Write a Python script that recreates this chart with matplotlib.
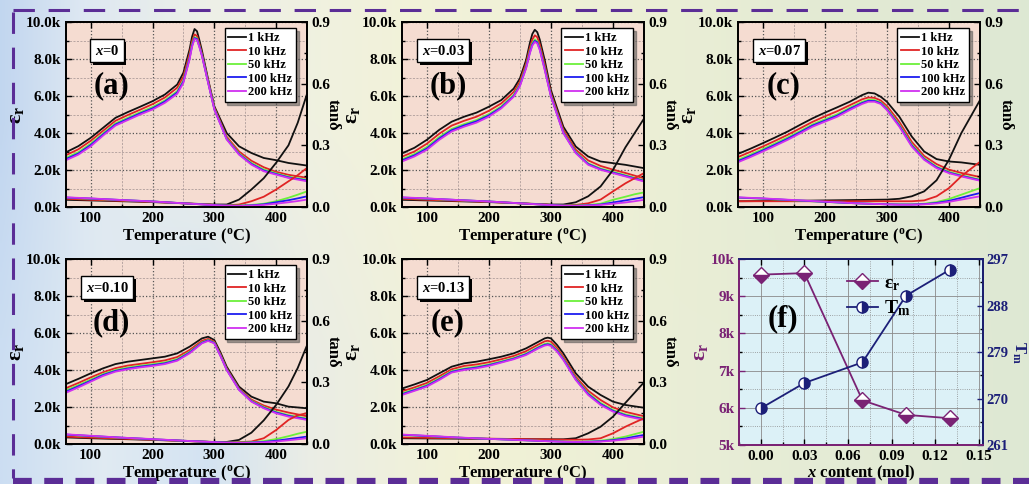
import numpy as np
import matplotlib
matplotlib.use('Agg')
import matplotlib.pyplot as plt
from matplotlib.lines import Line2D
from matplotlib.ticker import FuncFormatter, MultipleLocator, FixedLocator
import matplotlib.patheffects as pe

plt.rcParams['font.family'] = ['Liberation Serif', 'DejaVu Serif']
plt.rcParams['font.weight'] = 'bold'
plt.rcParams['axes.labelweight'] = 'bold'
plt.rcParams['mathtext.fontset'] = 'custom'
plt.rcParams['mathtext.rm'] = 'Liberation Serif:bold'
plt.rcParams['mathtext.it'] = 'Liberation Serif:italic:bold'
plt.rcParams['mathtext.bf'] = 'Liberation Serif:bold'

# ---------------- data ----------------
FREQS = ['1 kHz', '10 kHz', '50 kHz', '100 kHz', '200 kHz']
TAN_T = [60, 100, 150, 200, 250, 300, 320, 340, 360, 380, 400, 420, 435, 450]

# (a) x = 0
A_T = [60, 80, 100, 120, 140, 160, 180, 200, 220, 240, 250, 260, 264, 268, 272, 276, 280, 290, 300, 320, 340, 360, 380, 400, 420, 450]
A_EPS_1K = [2.96, 3.29, 3.74, 4.28, 4.82, 5.13, 5.42, 5.72, 6.08, 6.62, 7.26, 8.52, 9.20, 9.62, 9.50, 9.00, 8.45, 6.90, 5.45, 4.00, 3.28, 2.92, 2.65, 2.53, 2.38, 2.24]
A_EPS_10K = [2.80, 3.12, 3.58, 4.12, 4.66, 4.97, 5.26, 5.56, 5.92, 6.45, 7.05, 8.30, 8.95, 9.33, 9.25, 8.80, 8.30, 6.82, 5.38, 3.80, 3.00, 2.50, 2.15, 1.90, 1.74, 1.58]
A_EPS_50K = [2.66, 2.96, 3.42, 3.98, 4.52, 4.82, 5.12, 5.40, 5.76, 6.26, 6.85, 8.10, 8.78, 9.18, 9.12, 8.70, 8.22, 6.76, 5.32, 3.72, 2.90, 2.38, 2.03, 1.82, 1.64, 1.47]
A_EPS_100K = [2.59, 2.89, 3.35, 3.92, 4.46, 4.76, 5.06, 5.33, 5.70, 6.19, 6.78, 8.04, 8.72, 9.13, 9.08, 8.66, 8.19, 6.73, 5.29, 3.68, 2.86, 2.33, 1.97, 1.78, 1.60, 1.43]
A_EPS_200K = [2.53, 2.83, 3.28, 3.86, 4.40, 4.70, 5.00, 5.27, 5.63, 6.12, 6.71, 7.98, 8.66, 9.08, 9.03, 8.62, 8.16, 6.71, 5.27, 3.65, 2.83, 2.29, 1.93, 1.75, 1.57, 1.39]
A_TAN_1K = [0.035, 0.032, 0.028, 0.024, 0.018, 0.012, 0.012, 0.036, 0.085, 0.140, 0.215, 0.300, 0.410, 0.550]
A_TAN_10K = [0.040, 0.035, 0.030, 0.025, 0.018, 0.010, 0.008, 0.012, 0.028, 0.050, 0.085, 0.125, 0.155, 0.190]
A_TAN_50K = [0.045, 0.040, 0.033, 0.027, 0.018, 0.009, 0.007, 0.007, 0.010, 0.016, 0.028, 0.045, 0.060, 0.076]
A_TAN_100K = [0.046, 0.041, 0.034, 0.027, 0.018, 0.009, 0.007, 0.006, 0.008, 0.013, 0.023, 0.033, 0.042, 0.052]
A_TAN_200K = [0.047, 0.042, 0.034, 0.027, 0.018, 0.009, 0.006, 0.005, 0.007, 0.010, 0.016, 0.023, 0.029, 0.036]

# (b) x = 0.03
B_T = [60, 80, 100, 120, 140, 160, 180, 200, 220, 240, 250, 260, 266, 270, 274, 278, 282, 290, 300, 320, 340, 360, 380, 400, 420, 450]
B_EPS_1K = [2.90, 3.20, 3.63, 4.17, 4.61, 4.88, 5.10, 5.42, 5.78, 6.40, 6.95, 7.94, 8.85, 9.35, 9.58, 9.45, 9.05, 7.94, 6.32, 4.34, 3.27, 2.73, 2.46, 2.37, 2.28, 2.10]
B_EPS_10K = [2.72, 3.00, 3.42, 3.96, 4.40, 4.66, 4.88, 5.20, 5.60, 6.22, 6.78, 7.76, 8.60, 9.05, 9.28, 9.18, 8.80, 7.70, 6.15, 4.18, 3.10, 2.52, 2.22, 2.02, 1.84, 1.55]
B_EPS_50K = [2.58, 2.86, 3.24, 3.78, 4.22, 4.48, 4.70, 5.02, 5.44, 6.06, 6.63, 7.60, 8.42, 8.85, 9.06, 8.96, 8.60, 7.52, 6.04, 4.06, 2.98, 2.36, 2.08, 1.90, 1.72, 1.44]
B_EPS_100K = [2.52, 2.79, 3.16, 3.70, 4.15, 4.41, 4.63, 4.95, 5.38, 6.00, 6.57, 7.54, 8.35, 8.78, 8.98, 8.90, 8.54, 7.46, 6.00, 4.02, 2.94, 2.32, 2.04, 1.86, 1.68, 1.41]
B_EPS_200K = [2.46, 2.73, 3.09, 3.63, 4.08, 4.34, 4.56, 4.88, 5.33, 5.96, 6.53, 7.49, 8.30, 8.72, 8.92, 8.84, 8.48, 7.40, 5.96, 3.99, 2.91, 2.28, 2.01, 1.83, 1.65, 1.38]
B_TAN_1K = [0.035, 0.032, 0.028, 0.024, 0.018, 0.012, 0.012, 0.023, 0.052, 0.100, 0.180, 0.290, 0.360, 0.430]
B_TAN_10K = [0.040, 0.035, 0.030, 0.025, 0.018, 0.010, 0.008, 0.010, 0.018, 0.036, 0.076, 0.115, 0.140, 0.165]
B_TAN_50K = [0.045, 0.040, 0.033, 0.027, 0.018, 0.009, 0.007, 0.007, 0.010, 0.016, 0.035, 0.050, 0.062, 0.071]
B_TAN_100K = [0.046, 0.041, 0.034, 0.027, 0.018, 0.009, 0.007, 0.006, 0.008, 0.012, 0.022, 0.032, 0.040, 0.048]
B_TAN_200K = [0.047, 0.042, 0.034, 0.027, 0.018, 0.009, 0.006, 0.005, 0.007, 0.010, 0.016, 0.022, 0.028, 0.035]

# (c) x = 0.07
C_T = [60, 80, 100, 120, 140, 160, 180, 200, 220, 240, 260, 270, 280, 290, 300, 320, 340, 360, 380, 400, 420, 450]
C_EPS_1K = [2.87, 3.15, 3.45, 3.76, 4.08, 4.44, 4.79, 5.10, 5.39, 5.69, 6.05, 6.18, 6.14, 5.96, 5.69, 4.88, 3.81, 3.00, 2.59, 2.46, 2.41, 2.28]
C_EPS_10K = [2.70, 2.98, 3.27, 3.58, 3.90, 4.25, 4.60, 4.90, 5.18, 5.50, 5.82, 5.92, 5.90, 5.76, 5.46, 4.60, 3.52, 2.76, 2.32, 2.02, 1.84, 1.62]
C_EPS_50K = [2.55, 2.83, 3.13, 3.44, 3.76, 4.10, 4.46, 4.74, 5.01, 5.36, 5.68, 5.79, 5.78, 5.65, 5.33, 4.45, 3.38, 2.64, 2.18, 1.90, 1.72, 1.48]
C_EPS_100K = [2.48, 2.76, 3.06, 3.37, 3.69, 4.04, 4.40, 4.67, 4.94, 5.30, 5.62, 5.74, 5.73, 5.61, 5.28, 4.39, 3.32, 2.59, 2.14, 1.86, 1.68, 1.45]
C_EPS_200K = [2.42, 2.70, 3.00, 3.31, 3.63, 3.98, 4.34, 4.61, 4.88, 5.24, 5.57, 5.69, 5.69, 5.57, 5.24, 4.34, 3.27, 2.55, 2.10, 1.83, 1.65, 1.42]
C_TAN_1K = [0.028, 0.029, 0.030, 0.032, 0.034, 0.036, 0.040, 0.052, 0.076, 0.130, 0.230, 0.360, 0.440, 0.520]
C_TAN_10K = [0.028, 0.028, 0.028, 0.028, 0.028, 0.028, 0.028, 0.028, 0.032, 0.052, 0.092, 0.150, 0.185, 0.220]
C_TAN_50K = [0.045, 0.040, 0.032, 0.025, 0.018, 0.014, 0.013, 0.013, 0.016, 0.024, 0.039, 0.060, 0.076, 0.092]
C_TAN_100K = [0.046, 0.041, 0.033, 0.025, 0.018, 0.013, 0.012, 0.012, 0.014, 0.020, 0.030, 0.045, 0.057, 0.068]
C_TAN_200K = [0.047, 0.042, 0.034, 0.026, 0.018, 0.013, 0.011, 0.011, 0.013, 0.017, 0.025, 0.036, 0.044, 0.052]

# (d) x = 0.10
D_T = [60, 80, 100, 120, 140, 160, 180, 200, 220, 240, 260, 280, 290, 300, 310, 320, 340, 360, 380, 400, 420, 450]
D_EPS_1K = [3.24, 3.52, 3.82, 4.09, 4.32, 4.45, 4.54, 4.63, 4.72, 4.90, 5.26, 5.71, 5.80, 5.62, 4.95, 4.18, 3.10, 2.56, 2.29, 2.20, 2.02, 1.93]
D_EPS_10K = [3.02, 3.30, 3.60, 3.88, 4.10, 4.24, 4.33, 4.42, 4.52, 4.70, 5.08, 5.58, 5.68, 5.53, 4.85, 4.09, 3.00, 2.40, 2.08, 1.86, 1.70, 1.50]
D_EPS_50K = [2.90, 3.18, 3.48, 3.78, 4.00, 4.13, 4.23, 4.31, 4.41, 4.59, 4.98, 5.50, 5.62, 5.48, 4.80, 4.04, 2.96, 2.34, 2.00, 1.74, 1.56, 1.38]
D_EPS_100K = [2.83, 3.12, 3.42, 3.73, 3.95, 4.08, 4.18, 4.26, 4.36, 4.54, 4.94, 5.47, 5.60, 5.46, 4.77, 4.02, 2.94, 2.31, 1.96, 1.70, 1.52, 1.34]
D_EPS_200K = [2.77, 3.06, 3.37, 3.68, 3.91, 4.04, 4.14, 4.22, 4.32, 4.50, 4.90, 5.44, 5.57, 5.44, 4.75, 4.00, 2.92, 2.29, 1.93, 1.66, 1.48, 1.30]
D_TAN_1K = [0.032, 0.028, 0.024, 0.020, 0.015, 0.010, 0.010, 0.020, 0.055, 0.115, 0.190, 0.280, 0.370, 0.480]
D_TAN_10K = [0.036, 0.031, 0.026, 0.021, 0.015, 0.009, 0.008, 0.009, 0.012, 0.028, 0.068, 0.117, 0.140, 0.150]
D_TAN_50K = [0.045, 0.038, 0.030, 0.023, 0.016, 0.009, 0.007, 0.007, 0.009, 0.014, 0.024, 0.038, 0.050, 0.060]
D_TAN_100K = [0.046, 0.039, 0.031, 0.023, 0.016, 0.009, 0.007, 0.006, 0.007, 0.010, 0.016, 0.024, 0.030, 0.036]
D_TAN_200K = [0.047, 0.040, 0.031, 0.024, 0.016, 0.009, 0.006, 0.005, 0.006, 0.008, 0.012, 0.018, 0.023, 0.028]

# (e) x = 0.13
E_T = [60, 80, 100, 120, 140, 160, 180, 200, 220, 240, 260, 280, 290, 295, 300, 310, 320, 340, 360, 380, 400, 420, 450]
E_EPS_1K = [3.00, 3.22, 3.46, 3.82, 4.18, 4.36, 4.45, 4.58, 4.72, 4.90, 5.17, 5.53, 5.71, 5.75, 5.71, 5.35, 4.90, 3.82, 3.10, 2.65, 2.29, 2.11, 1.96]
E_EPS_10K = [2.85, 3.06, 3.30, 3.66, 4.04, 4.22, 4.30, 4.42, 4.58, 4.76, 5.02, 5.38, 5.55, 5.58, 5.53, 5.18, 4.72, 3.64, 2.88, 2.38, 1.98, 1.74, 1.50]
E_EPS_50K = [2.74, 2.95, 3.19, 3.55, 3.94, 4.08, 4.18, 4.30, 4.47, 4.65, 4.89, 5.25, 5.41, 5.44, 5.39, 5.07, 4.62, 3.54, 2.75, 2.22, 1.84, 1.60, 1.38]
E_EPS_100K = [2.69, 2.91, 3.14, 3.50, 3.90, 4.04, 4.13, 4.26, 4.43, 4.61, 4.85, 5.21, 5.36, 5.39, 5.34, 5.03, 4.58, 3.50, 2.70, 2.16, 1.79, 1.55, 1.34]
E_EPS_200K = [2.65, 2.87, 3.10, 3.46, 3.86, 4.00, 4.09, 4.22, 4.40, 4.58, 4.81, 5.17, 5.32, 5.35, 5.30, 4.99, 4.54, 3.46, 2.65, 2.11, 1.75, 1.51, 1.30]
E_TAN_1K = [0.028, 0.027, 0.026, 0.025, 0.024, 0.023, 0.023, 0.028, 0.052, 0.084, 0.133, 0.200, 0.250, 0.300]
E_TAN_10K = [0.032, 0.030, 0.028, 0.026, 0.024, 0.022, 0.021, 0.021, 0.022, 0.028, 0.052, 0.084, 0.105, 0.125]
E_TAN_50K = [0.044, 0.038, 0.031, 0.025, 0.019, 0.014, 0.012, 0.011, 0.012, 0.016, 0.024, 0.036, 0.048, 0.060]
E_TAN_100K = [0.045, 0.039, 0.031, 0.025, 0.019, 0.013, 0.011, 0.010, 0.011, 0.013, 0.019, 0.027, 0.036, 0.044]
E_TAN_200K = [0.046, 0.040, 0.032, 0.025, 0.019, 0.013, 0.011, 0.010, 0.010, 0.012, 0.016, 0.022, 0.029, 0.036]

# (f) summary
X_CONTENT = [0.00, 0.03, 0.07, 0.10, 0.13]
EPS_MAX = [9.58, 9.62, 6.20, 5.81, 5.72]   # in k
T_M = [268.1, 273.0, 277.0, 289.9, 294.9]

# ---------------- styling ----------------
W, H = 1029, 484
COLORS = ['#111111', '#e02424', '#6cf03a', '#1c1cf0', '#d030f0']
PINK = '#f5dcd1'
CYAN = '#dcf1f7'
PURPLE = '#7a2274'
NAVY = '#1c1f78'
BORDER = '#5b2d96'

fig = plt.figure(figsize=(W / 100, H / 100), dpi=100)

# background gradient
bg = fig.add_axes([0, 0, 1, 1], zorder=-10)
xs = np.linspace(0, 1, 300)
top_stops = [(0.0, (0.76, 0.84, 0.94)), (0.08, (0.87, 0.91, 0.95)), (0.2, (0.93, 0.94, 0.91)),
             (0.4, (0.95, 0.95, 0.85)), (0.6, (0.93, 0.94, 0.84)), (0.8, (0.89, 0.92, 0.83)),
             (1.0, (0.87, 0.91, 0.83))]
bot_stops = [(0.0, (0.80, 0.87, 0.95)), (0.1, (0.88, 0.92, 0.95)), (0.2, (0.83, 0.89, 0.95)),
             (0.3, (0.92, 0.93, 0.90)), (0.45, (0.95, 0.95, 0.84)), (0.7, (0.91, 0.93, 0.84)),
             (1.0, (0.87, 0.91, 0.83))]


def grad(stops):
    pos = [s[0] for s in stops]
    return np.stack([np.interp(xs, pos, [s[1][k] for s in stops]) for k in range(3)], axis=-1)


img = np.stack([grad(top_stops), grad(bot_stops)], axis=0)
bg.imshow(img, extent=[0, 1, 0, 1], aspect='auto', interpolation='bilinear', origin='upper')
bg.set_xlim(0, 1)
bg.set_ylim(0, 1)
bg.axis('off')

# dashed border
fig.add_artist(Line2D([13 / W, 1.0], [1 - 10 / H, 1 - 10 / H], transform=fig.transFigure,
                      color=BORDER, lw=2.2, linestyle=(0, (7, 4.5))))
fig.add_artist(Line2D([13 / W, 13 / W], [1 - 12 / H, 6 / H], transform=fig.transFigure,
                      color=BORDER, lw=2.2, linestyle=(0, (7, 4.5))))
fig.add_artist(Line2D([13 / W, 1.0], [3.5 / H, 3.5 / H], transform=fig.transFigure,
                      color=BORDER, lw=4.5, linestyle=(0, (3.0, 2.0))))

EPS_LABEL = r'$\mathrm{\varepsilon}_{\mathbf{r}}$'


def style_ticks(ax):
    ax.tick_params(which='both', direction='in', labelsize=11, width=1.0)
    ax.tick_params(which='major', length=4)
    ax.tick_params(which='minor', length=2)
    for s in ax.spines.values():
        s.set_linewidth(1.3)


def shadow_text(ax, x, y, s, size):
    t = ax.text(x, y, s, transform=ax.transAxes, fontsize=size, ha='center', va='center',
                bbox=dict(boxstyle='square,pad=0.3', fc='white', ec='black', lw=1), zorder=6)
    t.get_bbox_patch().set_path_effects([
        pe.SimplePatchShadow(offset=(2, -2), shadow_rgbFace='black', alpha=1.0), pe.Normal()])
    return t


def panel(rect, T, eps, tan, xtext, letter):
    ax = fig.add_axes(rect)
    ax.set_facecolor(PINK)
    ax.set_axisbelow(True)
    handles = []
    for e, c, lab in zip(eps, COLORS, FREQS):
        h, = ax.plot(T, e, color=c, lw=1.3, label=lab)
        handles.append(h)
    ax.set_xlim(60, 450)
    ax.set_ylim(0, 10)
    ax.xaxis.set_major_locator(FixedLocator([100, 200, 300, 400]))
    ax.xaxis.set_minor_locator(MultipleLocator(50))
    ax.yaxis.set_major_locator(MultipleLocator(2))
    ax.yaxis.set_minor_locator(MultipleLocator(1))
    ax.yaxis.set_major_formatter(FuncFormatter(lambda v, p: f'{v:.1f}k'))
    ax.grid(which='major', ls=':', color='#555555', lw=0.9)
    ax.grid(which='minor', ls=(0, (3, 2)), color='#a09090', lw=0.5)
    style_ticks(ax)
    ax.tick_params(top=True)
    ax.set_xlabel(r'Temperature ($^{\mathbf{o}}$C)', fontsize=12, labelpad=1)
    ax.set_ylabel(EPS_LABEL, fontsize=16, labelpad=0)

    ax2 = ax.twinx()
    for t, c in zip(tan, COLORS):
        ax2.plot(TAN_T, t, color=c, lw=1.3)
    ax2.set_ylim(0, 0.9)
    ax2.yaxis.set_major_locator(FixedLocator([0.0, 0.3, 0.6, 0.9]))
    ax2.yaxis.set_minor_locator(MultipleLocator(0.15))
    ax2.yaxis.set_major_formatter(FuncFormatter(lambda v, p: f'{v:.1f}'))
    style_ticks(ax2)
    ax2.set_ylabel('tanδ', rotation=270, fontsize=12, labelpad=7)

    leg = ax2.legend(handles, FREQS, loc='upper right', bbox_to_anchor=(0.955, 0.965),
                     fontsize=9, frameon=True, fancybox=False, shadow=True,
                     handlelength=1.4, handletextpad=0.2, labelspacing=0.12, borderpad=0.3,
                     borderaxespad=0.0)
    leg.get_frame().set_edgecolor('black')
    leg.get_frame().set_linewidth(1.0)
    leg.get_frame().set_facecolor('white')
    leg.get_frame().set_alpha(1.0)
    leg.set_zorder(10)

    shadow_text(ax2, 0.17, 0.845, xtext, 10.5)
    ax2.text(0.19, 0.655, letter, transform=ax2.transAxes, fontsize=22, ha='center', va='center')
    return ax, ax2


def frac(l, t, r, b):
    return [l / W, 1 - b / H, (r - l) / W, (b - t) / H]


panel(frac(66, 22, 307, 207), A_T,
      [A_EPS_1K, A_EPS_10K, A_EPS_50K, A_EPS_100K, A_EPS_200K],
      [A_TAN_1K, A_TAN_10K, A_TAN_50K, A_TAN_100K, A_TAN_200K], r'$\mathit{x}$=0', '(a)')
panel(frac(402, 22, 644, 207), B_T,
      [B_EPS_1K, B_EPS_10K, B_EPS_50K, B_EPS_100K, B_EPS_200K],
      [B_TAN_1K, B_TAN_10K, B_TAN_50K, B_TAN_100K, B_TAN_200K], r'$\mathit{x}$=0.03', '(b)')
panel(frac(738, 22, 980, 207), C_T,
      [C_EPS_1K, C_EPS_10K, C_EPS_50K, C_EPS_100K, C_EPS_200K],
      [C_TAN_1K, C_TAN_10K, C_TAN_50K, C_TAN_100K, C_TAN_200K], r'$\mathit{x}$=0.07', '(c)')
panel(frac(66, 259, 307, 444), D_T,
      [D_EPS_1K, D_EPS_10K, D_EPS_50K, D_EPS_100K, D_EPS_200K],
      [D_TAN_1K, D_TAN_10K, D_TAN_50K, D_TAN_100K, D_TAN_200K], r'$\mathit{x}$=0.10', '(d)')
panel(frac(402, 259, 644, 444), E_T,
      [E_EPS_1K, E_EPS_10K, E_EPS_50K, E_EPS_100K, E_EPS_200K],
      [E_TAN_1K, E_TAN_10K, E_TAN_50K, E_TAN_100K, E_TAN_200K], r'$\mathit{x}$=0.13', '(e)')

# ---------------- panel (f) ----------------
axf = fig.add_axes(frac(739, 259, 983, 445))
axf.set_facecolor(CYAN)
axf.set_axisbelow(True)
h1, = axf.plot(X_CONTENT, EPS_MAX, color=PURPLE, lw=1.3, marker='D', ms=8, fillstyle='bottom',
               markerfacecolor=PURPLE, markerfacecoloralt='white', markeredgecolor=PURPLE,
               markeredgewidth=1.0)
axf.set_xlim(-0.015, 0.153)
axf.set_ylim(5, 10)
axf.xaxis.set_major_locator(FixedLocator([0.00, 0.03, 0.06, 0.09, 0.12, 0.15]))
axf.xaxis.set_minor_locator(MultipleLocator(0.015))
axf.xaxis.set_major_formatter(FuncFormatter(lambda v, p: f'{v:.2f}'))
axf.yaxis.set_major_locator(MultipleLocator(1))
axf.yaxis.set_minor_locator(MultipleLocator(0.5))
axf.yaxis.set_major_formatter(FuncFormatter(lambda v, p: f'{int(round(v))}k'))
axf.grid(which='major', ls='-', color='#8a8a8a', lw=0.6)
axf.grid(which='minor', ls=':', color='#8a8a8a', lw=0.6)
style_ticks(axf)
axf.tick_params(top=True)
axf.tick_params(axis='y', colors=PURPLE)
axf.spines['left'].set_color(PURPLE)
axf.spines['bottom'].set_color(PURPLE)
axf.set_xlabel(r'$\mathit{x}$ content (mol)', fontsize=12, labelpad=1)
axf.set_ylabel(EPS_LABEL, fontsize=16, color=PURPLE, labelpad=0)

axf2 = axf.twinx()
h2, = axf2.plot(X_CONTENT, T_M, color=NAVY, lw=1.3, marker='o', ms=8, fillstyle='right',
                markerfacecolor=NAVY, markerfacecoloralt='white', markeredgecolor=NAVY,
                markeredgewidth=1.0)
axf2.set_ylim(261, 297)
axf2.yaxis.set_major_locator(MultipleLocator(9))
axf2.yaxis.set_minor_locator(MultipleLocator(4.5))
style_ticks(axf2)
axf2.tick_params(axis='y', colors=NAVY, labelsize=10.5, pad=2.5)
axf2.spines['right'].set_color(NAVY)
axf2.spines['top'].set_color(NAVY)
axf2.spines['left'].set_color(PURPLE)
axf2.spines['bottom'].set_color(PURPLE)
axf2.text(1.145, 0.5, r'T$_{\mathbf{m}}$', transform=axf2.transAxes, rotation=270,
          fontsize=12, color=NAVY, ha='center', va='center')

lg = axf2.legend([h1, h2], [EPS_LABEL, r'T$_{\mathbf{m}}$'],
                 loc='upper left', bbox_to_anchor=(0.37, 1.01), frameon=False, fontsize=14,
                 handlelength=1.6, handletextpad=0.3, labelspacing=0.3)
axf2.text(0.18, 0.68, '(f)', transform=axf2.transAxes, fontsize=22, ha='center', va='center')

fig.savefig('out.png', dpi=100)
